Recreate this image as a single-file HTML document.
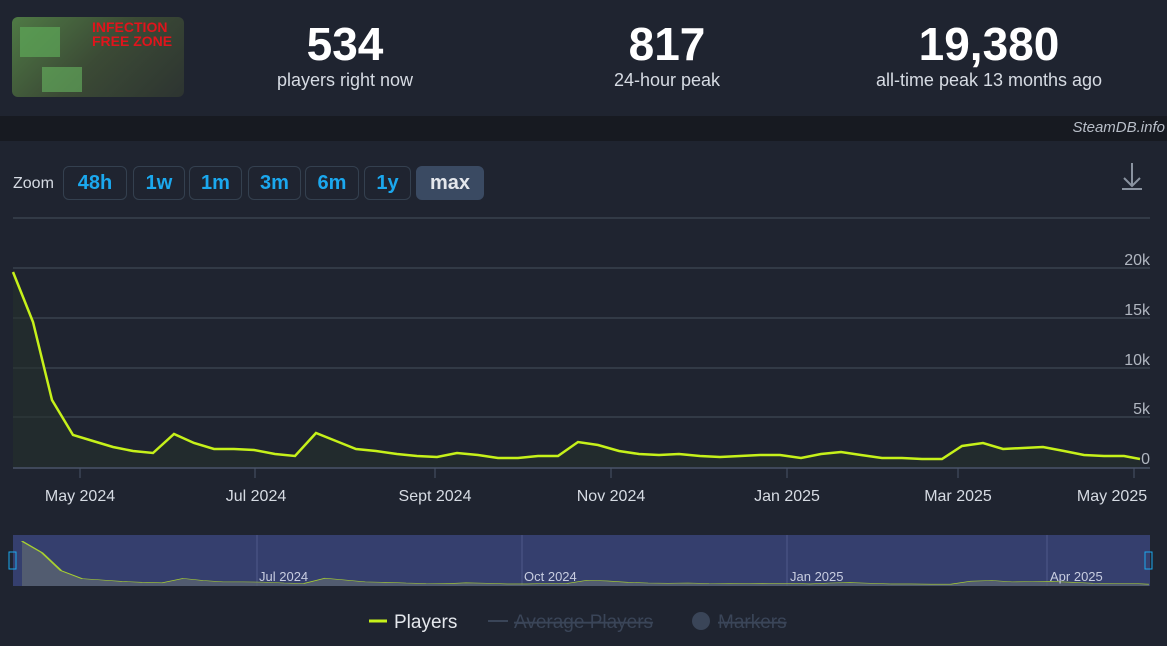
<!DOCTYPE html>
<html><head><meta charset="utf-8"><style>
body{margin:0;width:1167px;height:646px;background:#1f2430;font-family:"Liberation Sans",sans-serif;overflow:hidden;position:relative;color:#fff}
.stat{position:absolute;top:18px;text-align:center;width:300px}
.stat b{display:block;font-size:46px;font-weight:bold;line-height:52px}
.stat span{font-size:18px;color:#d6dbe3}
.band{position:absolute;top:116px;left:0;width:1167px;height:25px;background:#171a21}
.btn{position:absolute;top:166px;height:34px;border:1px solid #34404f;border-radius:6px;box-sizing:border-box;color:#1ba8ee;font-weight:bold;font-size:20px;line-height:32px;text-align:center}
</style></head><body>
<div style="position:absolute;left:12px;top:17px;width:172px;height:80px;border-radius:6px;background:linear-gradient(135deg,#4f7a45,#3b4a35 50%,#2d3431);overflow:hidden">
<div style="position:absolute;left:80px;top:3px;color:#e0141c;font-weight:bold;font-size:14px;line-height:14px">INFECTION<br>FREE ZONE</div>
<div style="position:absolute;left:8px;top:10px;width:40px;height:30px;background:#5ea858;opacity:.7"></div>
<div style="position:absolute;left:30px;top:50px;width:40px;height:25px;background:#68b560;opacity:.6"></div>
</div>
<div class="stat" style="left:195px"><b>534</b><span>players right now</span></div>
<div class="stat" style="left:517px"><b>817</b><span>24-hour peak</span></div>
<div class="stat" style="left:839px"><b>19,380</b><span>all-time peak 13 months ago</span></div>
<div class="band"></div>
<div style="position:absolute;right:2px;top:119px;font-style:italic;color:#b8bec8;font-size:15px">SteamDB.info</div>
<div style="position:absolute;left:13px;top:175px;font-size:16px;color:#d6dbe3">Zoom</div>
<div class="btn" style="left:63px;width:64px">48h</div>
<div class="btn" style="left:133px;width:52px">1w</div>
<div class="btn" style="left:189px;width:53px">1m</div>
<div class="btn" style="left:248px;width:53px">3m</div>
<div class="btn" style="left:305px;width:54px">6m</div>
<div class="btn" style="left:364px;width:47px">1y</div>
<div class="btn" style="left:416px;width:68px;background:#3a4a62;border-color:#3a4a62;color:#e4e7ec">max</div>
<svg width="1167" height="646" style="position:absolute;left:0;top:0" font-family="Liberation Sans, sans-serif">
<g stroke="#8a93a0" stroke-width="2" fill="none"><path d="M1132 163v22M1124 178l8 8 8-8M1122 189h20"/></g>
<g stroke="#39414e" stroke-width="1.5"><path d="M13 218H1150M13 268H1150M13 318H1150M13 368H1150M13 417H1150"/></g>
<path d="M13 468H1150" stroke="#4a5568" stroke-width="1.5"/>
<g stroke="#4a5568"><path d="M80 468v10M255 468v10M435 468v10M611 468v10M787 468v10M958 468v10M1134 468v10"/></g>
<g fill="#b0b6c0" font-size="16" text-anchor="end"><text x="1150" y="265">20k</text><text x="1150" y="315">15k</text><text x="1150" y="365">10k</text><text x="1150" y="414">5k</text><text x="1150" y="464">0</text></g>
<g fill="#d6dbe3" font-size="16" text-anchor="middle"><text x="80" y="501">May 2024</text><text x="256" y="501">Jul 2024</text><text x="435" y="501">Sept 2024</text><text x="611" y="501">Nov 2024</text><text x="787" y="501">Jan 2025</text><text x="958" y="501">Mar 2025</text><text x="1112" y="501">May 2025</text></g>
<defs>
<polyline id="d" points="13,272 33,322 52,400 73,435 93,441 113,447 133,451 153,453 174,434 194,443 214,449 234,449 254,450 275,454 295,456 316,433 336,441 356,449 376,451 397,454 417,456 437,457 457,453 478,455 498,458 518,458 538,456 558,456 578,442 598,445 619,451 639,454 659,455 679,454 700,456 720,457 740,456 760,455 780,455 801,458 821,454 841,452 861,455 882,458 902,458 922,459 942,459 962,446 983,443 1003,449 1023,448 1043,447 1064,451 1084,455 1104,456 1124,456 1140,459"/>
<polygon id="f" points="13,272 33,322 52,400 73,435 93,441 113,447 133,451 153,453 174,434 194,443 214,449 234,449 254,450 275,454 295,456 316,433 336,441 356,449 376,451 397,454 417,456 437,457 457,453 478,455 498,458 518,458 538,456 558,456 578,442 598,445 619,451 639,454 659,455 679,454 700,456 720,457 740,456 760,455 780,455 801,458 821,454 841,452 861,455 882,458 902,458 922,459 942,459 962,446 983,443 1003,449 1023,448 1043,447 1064,451 1084,455 1104,456 1124,456 1140,459 1140,467 13,467"/>
</defs>
<use href="#f" fill="#24302c" opacity=".6"/>
<use href="#d" fill="none" stroke="#c6f11a" stroke-width="2.5"/>
<rect x="13" y="535" width="1137" height="51" fill="#353f6e"/>
<g stroke="#4f5a8a"><path d="M257 535v51M522 535v51M787 535v51M1047 535v51"/></g>
<g transform="matrix(1,0,0,0.23,9,478.6)"><use href="#f" fill="#5a6470" opacity=".8" stroke="none"/><use href="#d" fill="none" stroke="#a8d030" stroke-width="2.5" vector-effect="non-scaling-stroke"/></g>
<g fill="#c8cde0" font-size="13"><text x="259" y="581">Jul 2024</text><text x="524" y="581">Oct 2024</text><text x="790" y="581">Jan 2025</text><text x="1050" y="581">Apr 2025</text></g>
<rect x="9" y="552" width="7" height="17" fill="none" stroke="#1ba8ee"/><rect x="1145" y="552" width="7" height="17" fill="none" stroke="#1ba8ee"/>
<path d="M369 621h18" stroke="#c6f11a" stroke-width="3"/>
<text x="394" y="628" fill="#e4e7ec" font-size="19">Players</text>
<path d="M488 621h20" stroke="#3a4558" stroke-width="2"/>
<text x="514" y="628" fill="#3a4558" font-size="19" text-decoration="line-through">Average Players</text>
<circle cx="701" cy="621" r="9" fill="#3a4558"/>
<text x="718" y="628" fill="#3a4558" font-size="19" text-decoration="line-through">Markers</text>
</svg>
</body></html>
